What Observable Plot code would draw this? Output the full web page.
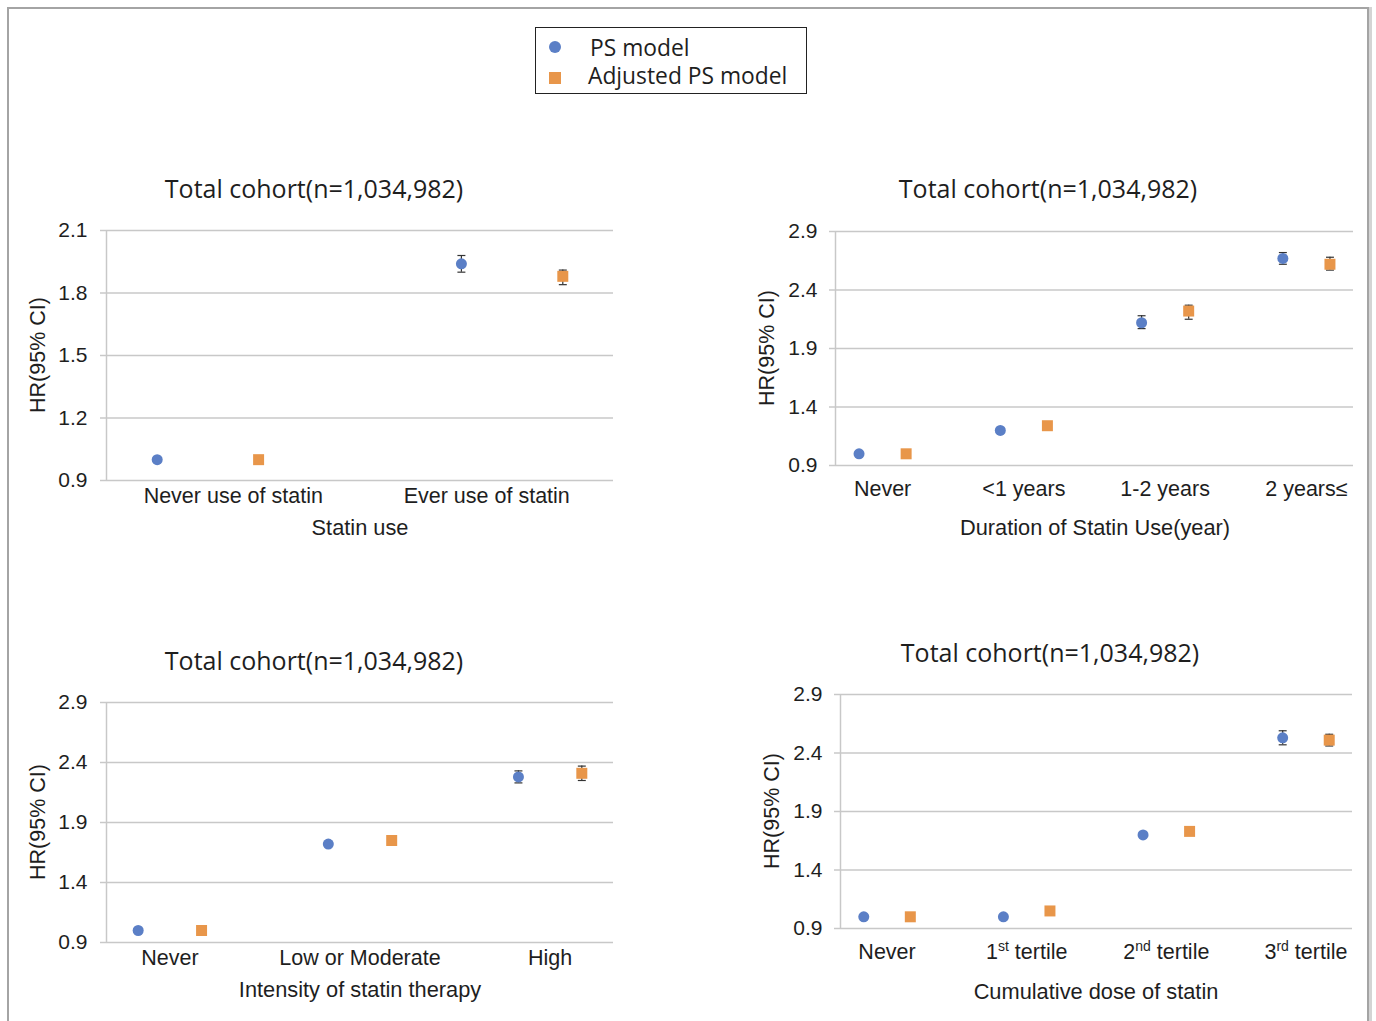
<!DOCTYPE html>
<html>
<head>
<meta charset="utf-8">
<script src="https://cdn.jsdelivr.net/npm/d3@7"></script>
<script src="https://cdn.jsdelivr.net/npm/@observablehq/plot@0.6"></script>
<style>
  html, body { margin: 0; padding: 0; background: #fff; }
  #page { position: relative; width: 1376px; height: 1021px; overflow: hidden; background: #fff; }
  .frame { position: absolute; left: 7px; top: 7px; width: 1362px; height: 1030px; border: 2px solid #a4a4a4; box-shadow: 3px 0 0 #d4d4d4; box-sizing: border-box; }
  .txt { position: absolute; white-space: nowrap; color: #1e1e1e; transform: translate(-50%, -50%); }
  .title { font-family: "Open Sans", "Noto Sans", sans-serif; font-size: 25px; }
  .ylab { font-family: "Liberation Sans", Arial, sans-serif; font-size: 21.5px; transform: translate(-50%, -50%) rotate(-90deg); }
  .xlab { font-family: "Liberation Sans", Arial, sans-serif; font-size: 21.8px; }
  .legend { position: absolute; left: 535px; top: 27px; width: 272px; height: 67px; border: 1.5px solid #222; box-sizing: border-box; background: #fff; }
  .legend .item { position: absolute; font-family: "Open Sans", "Noto Sans", sans-serif; font-size: 22.8px; color: #1e1e1e; white-space: nowrap; transform: translateY(-50%); }
  .panel { position: absolute; }
</style>
</head>
<body>
<div id="page">
  <div class="frame"></div>
</div>
<script>
// ---------- Data ----------
const yTicksA = [0.9, 1.2, 1.5, 1.8, 2.1];
const yTicksB = [0.9, 1.4, 1.9, 2.4, 2.9];

const useCats = ["Never use of statin", "Ever use of statin"];
const usePS = [1.00, 1.94];
const usePSLo = [0.99, 1.90];
const usePSHi = [1.01, 1.98];
const useAdj = [1.00, 1.88];
const useAdjLo = [0.99, 1.84];
const useAdjHi = [1.01, 1.91];

const durCats = ["Never", "<1 years", "1-2 years", "2 years\u2264"];
const durPS = [1.00, 1.20, 2.12, 2.67];
const durPSLo = [0.99, 1.18, 2.07, 2.62];
const durPSHi = [1.01, 1.22, 2.18, 2.72];
const durAdj = [1.00, 1.24, 2.22, 2.62];
const durAdjLo = [0.99, 1.22, 2.15, 2.57];
const durAdjHi = [1.01, 1.26, 2.27, 2.68];

const intCats = ["Never", "Low or Moderate", "High"];
const intPS = [1.00, 1.72, 2.28];
const intPSLo = [0.99, 1.70, 2.23];
const intPSHi = [1.01, 1.74, 2.33];
const intAdj = [1.00, 1.75, 2.31];
const intAdjLo = [0.99, 1.73, 2.25];
const intAdjHi = [1.01, 1.77, 2.37];

const doseCats = ["Never", "1st tertile", "2nd tertile", "3rd tertile"];
const dosePS = [1.00, 1.00, 1.70, 2.53];
const dosePSLo = [0.99, 0.99, 1.68, 2.47];
const dosePSHi = [1.01, 1.01, 1.72, 2.59];
const doseAdj = [1.00, 1.05, 1.73, 2.51];
const doseAdjLo = [0.99, 1.04, 1.71, 2.46];
const doseAdjHi = [1.01, 1.06, 1.75, 2.56];

const seriesNames = ["PS model", "Adjusted PS model"];
const title = "Total cohort(n=1,034,982)";
const yTitle = "HR(95% CI)";

// ---------- Styles ----------
const BLUE = "#5b7fc6";
const ORANGE = "#e8964a";
const GRID = "#c8c8c8";
const INK = "#1e1e1e";
const page = document.getElementById("page");

function addText(cls, text, x, y) {
  const d = document.createElement("div");
  d.className = "txt " + cls;
  d.textContent = text;
  d.style.left = x + "px";
  d.style.top = y + "px";
  page.appendChild(d);
}

const capSymbol = {
  draw(ctx, size) {
    const w = Math.sqrt(size);
    ctx.moveTo(-w / 2, 0);
    ctx.lineTo(w / 2, 0);
  }
};

function makePanel(cfg) {
  const n = cfg.cats.length;
  const rows = [];
  cfg.cats.forEach((c, i) => {
    rows.push({series: seriesNames[0], x: i - 1 / 6, hr: cfg.ps[i], lo: cfg.psLo[i], hi: cfg.psHi[i]});
    rows.push({series: seriesNames[1], x: i + 1 / 6, hr: cfg.adj[i], lo: cfg.adjLo[i], hi: cfg.adjHi[i]});
  });
  const x0 = -1 / 3, x1 = n - 1 + 1 / 3;
  const tickPos = cfg.labelMode === "band"
    ? cfg.cats.map((c, k) => x0 + (x1 - x0) * (k + 0.5) / n)
    : d3.range(n);
  const labelOf = new Map(tickPos.map((p, k) => [p, cfg.cats[k]]));
  const yT = cfg.yTicks;

  const width = cfg.svgW, height = cfg.svgH;
  const plot = Plot.plot({
    width, height,
    marginLeft: cfg.plotLeft - cfg.left,
    marginRight: cfg.left + width - cfg.plotRight,
    marginTop: cfg.plotTop - cfg.top,
    marginBottom: cfg.top + height - cfg.plotBottom,
    style: {fontFamily: "'Liberation Sans', Arial, sans-serif", fontSize: "21px", color: INK, background: "transparent", overflow: "visible"},
    x: {domain: [x0, x1], axis: null, label: null},
    y: {domain: [yT[0], yT[yT.length - 1]], axis: null, label: null},
    marks: [
      Plot.gridY(yT, {stroke: GRID, strokeOpacity: 1, strokeWidth: 1.5}),
      Plot.axisY({ticks: yT, tickFormat: d3.format(".1f"), tickSize: 6, tickPadding: cfg.tickPad, stroke: GRID, strokeWidth: 1.5, fill: INK, fontSize: 21, label: null}),
      Plot.ruleX([x0], {stroke: GRID, strokeWidth: 1.5}),
      Plot.axisX({ticks: tickPos, tickFormat: d => labelOf.get(d), tickSize: 0, tickPadding: cfg.xPad, fill: INK, fontSize: 21.5, label: null}),
      Plot.ruleX(rows, {x: "x", y1: "lo", y2: "hi", stroke: "#333", strokeWidth: 1.2}),
      Plot.dot(rows, {x: "x", y: "hi", r: 4.5, symbol: capSymbol, fill: "none", stroke: "#333", strokeWidth: 1.2}),
      Plot.dot(rows, {x: "x", y: "lo", r: 4.5, symbol: capSymbol, fill: "none", stroke: "#333", strokeWidth: 1.2}),
      Plot.dot(rows.filter(d => d.series === seriesNames[0]), {x: "x", y: "hr", r: 5.5, fill: BLUE, symbol: "circle"}),
      Plot.dot(rows.filter(d => d.series === seriesNames[1]), {x: "x", y: "hr", r: 6.2, fill: ORANGE, symbol: "square"})
    ]
  });
  const wrap = document.createElement("div");
  wrap.className = "panel";
  wrap.style.left = cfg.left + "px";
  wrap.style.top = cfg.top + "px";
  wrap.appendChild(plot);
  page.appendChild(wrap);

  // superscript ordinals in tick labels (re-centred after measuring)
  d3.select(plot).selectAll("text").each(function () {
    const t = this.textContent;
    const m = t.match(/^(\d)(st|nd|rd) (.*)$/);
    if (m) {
      const sel = d3.select(this);
      const cx = +(this.getAttribute("x") || 0);
      sel.text(null).attr("text-anchor", "start");
      const first = sel.append("tspan").text(m[1]);
      sel.append("tspan").attr("font-size", 14).attr("dy", -8).text(m[2]);
      sel.append("tspan").attr("dy", 8).text(" " + m[3]);
      const bb = this.getBBox();
      first.attr("dx", cx - (bb.x + bb.width / 2));
    }
  });

  addText("title", title, cfg.titleX, cfg.titleY);
  addText("ylab", yTitle, cfg.yLabX, cfg.yLabY);
  addText("xlab", cfg.xTitle, cfg.xTitleX, cfg.xTitleY);
}

makePanel({cats: useCats, ps: usePS, psLo: usePSLo, psHi: usePSHi, adj: useAdj, adjLo: useAdjLo, adjHi: useAdjHi,
  yTicks: yTicksA, labelMode: "band", xTitle: "Statin use",
  left: 0, top: 200, svgW: 640, svgH: 320, plotLeft: 106, plotRight: 613, plotTop: 230, plotBottom: 480, tickPad: 13, xPad: 7,
  titleX: 314, titleY: 188, yLabX: 38, yLabY: 355, xTitleX: 360, xTitleY: 528});

makePanel({cats: durCats, ps: durPS, psLo: durPSLo, psHi: durPSHi, adj: durAdj, adjLo: durAdjLo, adjHi: durAdjHi,
  yTicks: yTicksB, labelMode: "point", xTitle: "Duration  of Statin Use(year)",
  left: 700, top: 200, svgW: 676, svgH: 305, plotLeft: 835, plotRight: 1353, plotTop: 231, plotBottom: 465, tickPad: 12, xPad: 15,
  titleX: 1048, titleY: 188, yLabX: 767, yLabY: 348, xTitleX: 1095, xTitleY: 528});

makePanel({cats: intCats, ps: intPS, psLo: intPSLo, psHi: intPSHi, adj: intAdj, adjLo: intAdjLo, adjHi: intAdjHi,
  yTicks: yTicksB, labelMode: "point", xTitle: "Intensity of statin therapy",
  left: 0, top: 672, svgW: 640, svgH: 310, plotLeft: 106, plotRight: 613, plotTop: 702, plotBottom: 942, tickPad: 13, xPad: 7,
  titleX: 314, titleY: 660, yLabX: 38, yLabY: 822, xTitleX: 360, xTitleY: 990});

makePanel({cats: doseCats, ps: dosePS, psLo: dosePSLo, psHi: dosePSHi, adj: doseAdj, adjLo: doseAdjLo, adjHi: doseAdjHi,
  yTicks: yTicksB, labelMode: "point", xTitle: "Cumulative dose of statin",
  left: 700, top: 664, svgW: 676, svgH: 305, plotLeft: 840, plotRight: 1352, plotTop: 694, plotBottom: 928, tickPad: 12, xPad: 15,
  titleX: 1050, titleY: 652, yLabX: 772, yLabY: 811, xTitleX: 1096, xTitleY: 992});

// ---------- Legend ----------
const legend = document.createElement("div");
legend.className = "legend";
legend.innerHTML = `
  <svg width="40" height="65" style="position:absolute;left:0;top:0">
    <circle cx="19" cy="19" r="6" fill="${BLUE}"></circle>
    <rect x="13" y="44" width="12" height="12" fill="${ORANGE}"></rect>
  </svg>
  <div class="item" style="left:54px;top:19px">${seriesNames[0]}</div>
  <div class="item" style="left:52px;top:47px">${seriesNames[1]}</div>`;
page.appendChild(legend);
</script>
</body>
</html>
